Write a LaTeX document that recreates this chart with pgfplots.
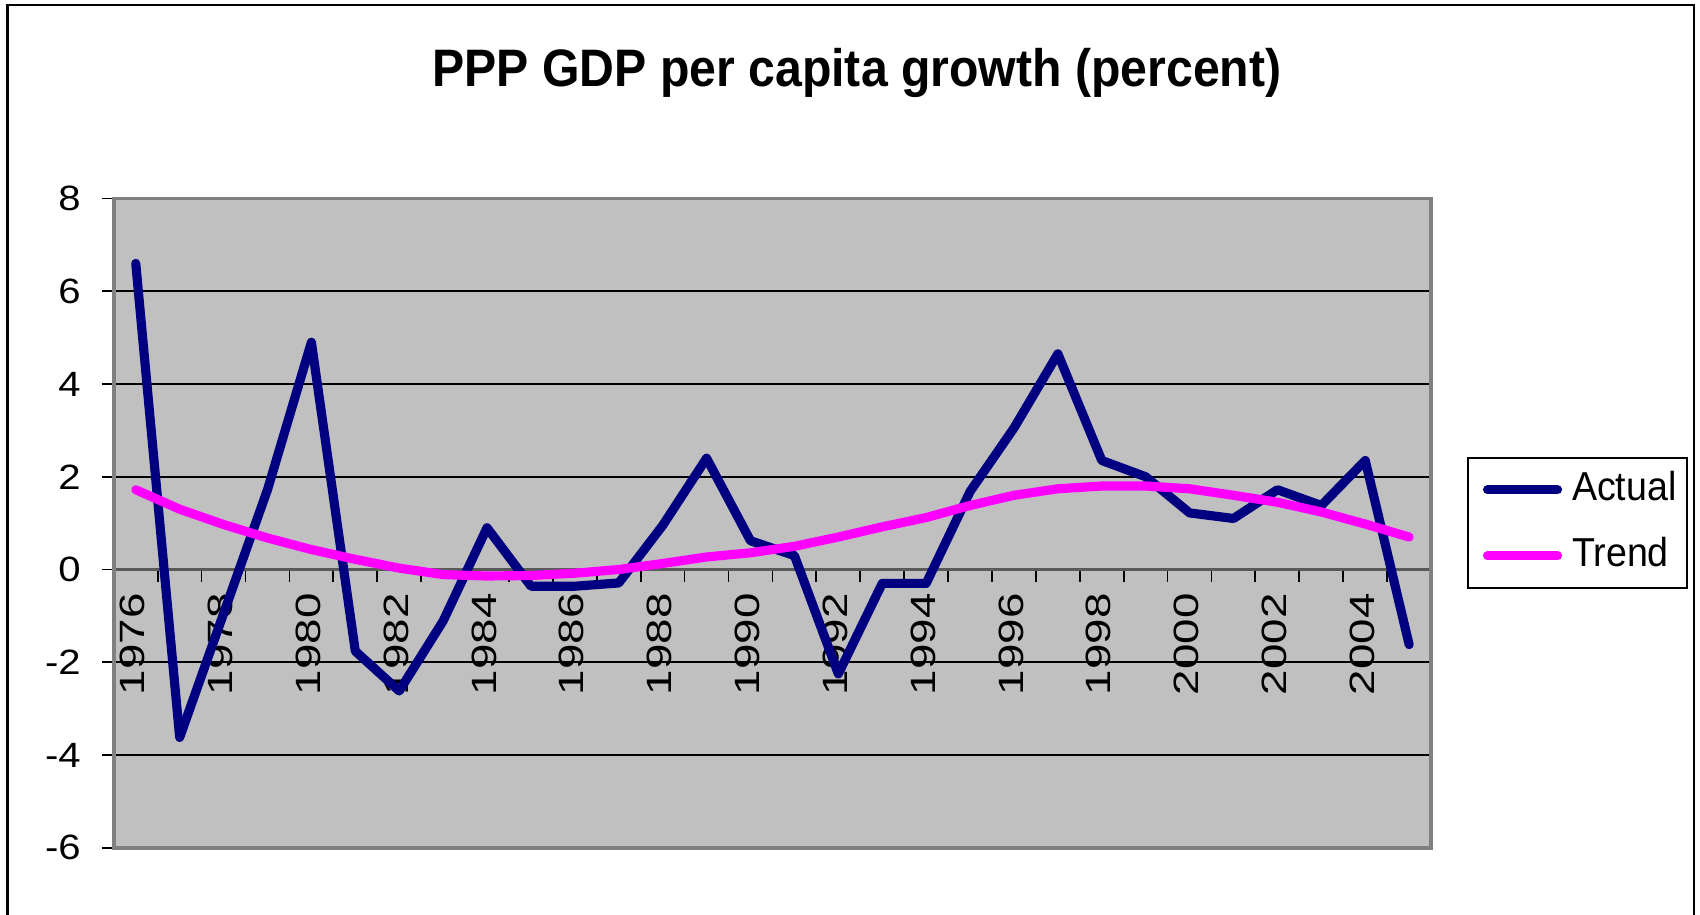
\documentclass[border=0pt]{standalone}
\usepackage{pgfplots}
\pgfplotsset{compat=1.18}
\usepackage{pgfplotstable}
\usepackage{fontspec}
\setmainfont{Liberation Sans}
\usepackage{graphicx}
\definecolor{navyline}{HTML}{000080}
\definecolor{trendpink}{HTML}{FF00FF}
\definecolor{plotgray}{HTML}{C0C0C0}
\definecolor{framegray}{HTML}{808080}

% PPP GDP per capita growth, actual and trend (percent)
\pgfplotstableread{
year actual trend
1976  6.60  1.72
1977 -3.62  1.30
1978 -0.95  0.97
1979  1.72  0.68
1980  4.90  0.43
1981 -1.76  0.22
1982 -2.62  0.03
1983 -1.11 -0.11
1984  0.90 -0.14
1985 -0.36 -0.13
1986 -0.36 -0.08
1987 -0.29  0.00
1988  0.95  0.13
1989  2.40  0.27
1990  0.62  0.36
1991  0.30  0.50
1992 -2.25  0.70
1993 -0.30  0.92
1994 -0.30  1.12
1995  1.68  1.38
1996  3.05  1.60
1997  4.65  1.74
1998  2.35  1.80
1999  2.00  1.80
2000  1.22  1.74
2001  1.10  1.60
2002  1.72  1.45
2003  1.38  1.24
2004  2.35  0.98
2005 -1.62  0.70
}\gdpdata

\begin{document}
\begin{tikzpicture}[x=1cm,y=1cm]
\useasboundingbox (0,0) rectangle (17,9.14);
\draw[black, line width=0.75pt] (0.076,-0.3) rectangle (16.94,9.09);
\node[anchor=base, inner sep=0pt] at (8.57,8.273)
  {\resizebox{8.49cm}{\height}{\fontsize{15}{18}\selectfont\bfseries PPP GDP per capita growth (percent)}};
\begin{axis}[
  scale only axis,
  width=13.173cm, height=6.494cm,
  at={(1.138cm,0.662cm)}, anchor=south west,
  xmin=1975.5, xmax=2005.5,
  ymin=-6, ymax=8,
  axis x line=middle, axis y line=left,
  axis line style={-},
  x axis line style={draw=black!65, line width=0.7pt},
  y axis line style={draw=framegray, line width=1pt},
  axis background/.style={fill=plotgray},
  hide obscured x ticks=false, hide obscured y ticks=false,
  ytick={-6,-4,...,8},
  yticklabels={-6,-4,-2,0,2,4,6,8},
  ymajorgrids,
  grid style={black, line width=0.5pt},
  xtick={1975.5,1976.5,...,2005.5},
  xticklabels={},
  extra x ticks={1976,1978,...,2004},
  extra x tick labels={1976,1978,1980,1982,1984,1986,1988,1990,1992,1994,1996,1998,2000,2002,2004},
  extra x tick style={major tick length=0pt,
    xticklabel style={yshift=-2.3mm, xshift=-0.3mm, rotate=90, anchor=east, xscale=1.3, inner sep=0pt,
      font=\fontsize{10}{12}\selectfont}},
  tick align=outside,
  major tick length=3.5pt,
  tick style={black, line width=0.5pt},
  tick label style={font=\fontsize{10}{12}\selectfont},
  yticklabel style={xshift=-2mm, xscale=1.14, anchor=east, inner sep=0pt},
  legend cell align=left,
  legend image code/.code={\path (0mm,0mm); \draw[#1, line cap=round] (0.45mm,0mm) -- (7.45mm,0mm);},
  legend style={at={(1.0273,0.6018)}, anchor=north west, draw=black, line width=0.5pt, fill=white,
    inner xsep=1.05mm, inner ysep=1.4mm, column sep=1.0mm, row sep=3.0mm,
    font=\fontsize{11.5}{13}\selectfont,
    nodes={inner sep=0pt, text height=2.9mm, text depth=0.7mm}},
  after end axis/.code={\draw[framegray, line width=1pt] (rel axis cs:0,0) rectangle (rel axis cs:1,1);},
]
\addplot[navyline, line width=2.6pt, line join=round, line cap=round, mark=none]
  table[x=year, y=actual]{\gdpdata};
\addlegendentry{\scalebox{0.93}[1]{Actual}}
\addplot[trendpink, line width=2.6pt, line join=round, line cap=round, mark=none]
  table[x=year, y=trend]{\gdpdata};
\addlegendentry{\scalebox{0.93}[1]{Trend}}
\end{axis}
\end{tikzpicture}
\end{document}
